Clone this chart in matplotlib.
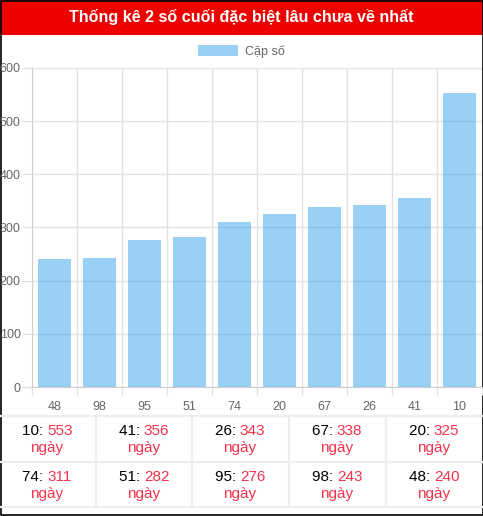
import matplotlib.pyplot as plt
from matplotlib.patches import Rectangle

plt.rcParams['font.family'] = ['Liberation Sans', 'DejaVu Sans']

# data
pairs = ['48', '98', '95', '51', '74', '20', '67', '26', '41', '10']
days = [240, 243, 276, 282, 311, 325, 338, 343, 356, 553]
title = 'Thống kê 2 số cuối đặc biệt lâu chưa về nhất'
legend_label = 'Cặp số'
unit = 'ngày'

W, H = 483, 516
red = '#ee0000'
num_red = '#f2334b'
grid_c = '#e2e2e2'
bar_c = (54/255, 162/255, 235/255, 0.5)


def fx(px):
    return px / W


def fy(py):
    return 1 - py / H


fig = plt.figure(figsize=(W/100, H/100), dpi=100)

# background layer in pixel coords: title bar, table, border
bg = fig.add_axes([0, 0, 1, 1])
bg.set_xlim(0, W)
bg.set_ylim(H, 0)
bg.axis('off')

bg.add_patch(Rectangle((0, 0), W, 35, color=red, lw=0))
bg.text(W/2, 17, title, color='white', fontsize=11.6, fontweight='bold',
        ha='center', va='center')

# chart
ax = fig.add_axes([fx(32), fy(387), fx(482) - fx(32), fy(68) - fy(387)])
x = list(range(len(pairs)))
bars = ax.bar(x, days, width=0.72, color=bar_c, lw=0, label=legend_label)
ax.set_xlim(-0.5, len(pairs) - 0.5)
ax.set_ylim(0, 600)
ax.set_yticks(range(0, 601, 100))
ax.set_xticks(x)
ax.set_xticklabels(pairs)
ax.set_xticks([i - 0.5 for i in range(len(pairs) + 1)], minor=True)
ax.set_axisbelow(True)
ax.grid(axis='y', color=grid_c, lw=1)
ax.grid(axis='x', which='minor', color=grid_c, lw=1)
ax.tick_params(axis='x', which='major', length=0, pad=10, labelsize=9, labelcolor='#666666')
ax.tick_params(axis='x', which='minor', length=5.8, color=grid_c, width=1)
ax.tick_params(axis='y', length=7.2, color=grid_c, width=1, pad=1, labelsize=9, labelcolor='#666666')
for s in ['top', 'right']:
    ax.spines[s].set_visible(False)
ax.spines['left'].set_color('#cfcfcf')
ax.spines['bottom'].set_color('#cfcfcf')

fig.legend(handles=[bars], labels=[legend_label], loc='center',
           bbox_to_anchor=(fx(241), fy(51)), frameon=False, fontsize=9,
           labelcolor='#666666', handlelength=3.2, handleheight=0.95,
           handletextpad=0.55)

# table of longest absent pairs
order = sorted(range(len(days)), key=lambda i: -days[i])
col_x = [47, 144, 240, 337, 434]
row_y = [(431, 448), (477, 494)]
for y in [416, 461.5, 507]:
    bg.plot([0, 482], [y, y], color='#eeeeee', lw=1.6)
for xv in [96, 192, 289, 386]:
    bg.plot([xv, xv], [416, 507], color='#eeeeee', lw=1.6)

fig.canvas.draw()
r = fig.canvas.get_renderer()
for k, i in enumerate(order):
    row, col = divmod(k, 5)
    cx = col_x[col]
    y1, y2 = row_y[row]
    t1 = bg.text(0, y1, pairs[i] + ': ', color='black', fontsize=11, ha='left', va='center')
    t2 = bg.text(0, y1, str(days[i]), color=num_red, fontsize=11, ha='left', va='center')
    w1 = t1.get_window_extent(r).width
    w2 = t2.get_window_extent(r).width
    left = cx - (w1 + w2) / 2
    t1.set_x(left)
    t2.set_x(left + w1)
    bg.text(cx, y2, unit, color=num_red, fontsize=11, ha='center', va='center')

bg.add_patch(Rectangle((0.5, 0.5), 482, 514, fill=False, ec='black', lw=1.2))

fig.savefig('out.png', dpi=100)
